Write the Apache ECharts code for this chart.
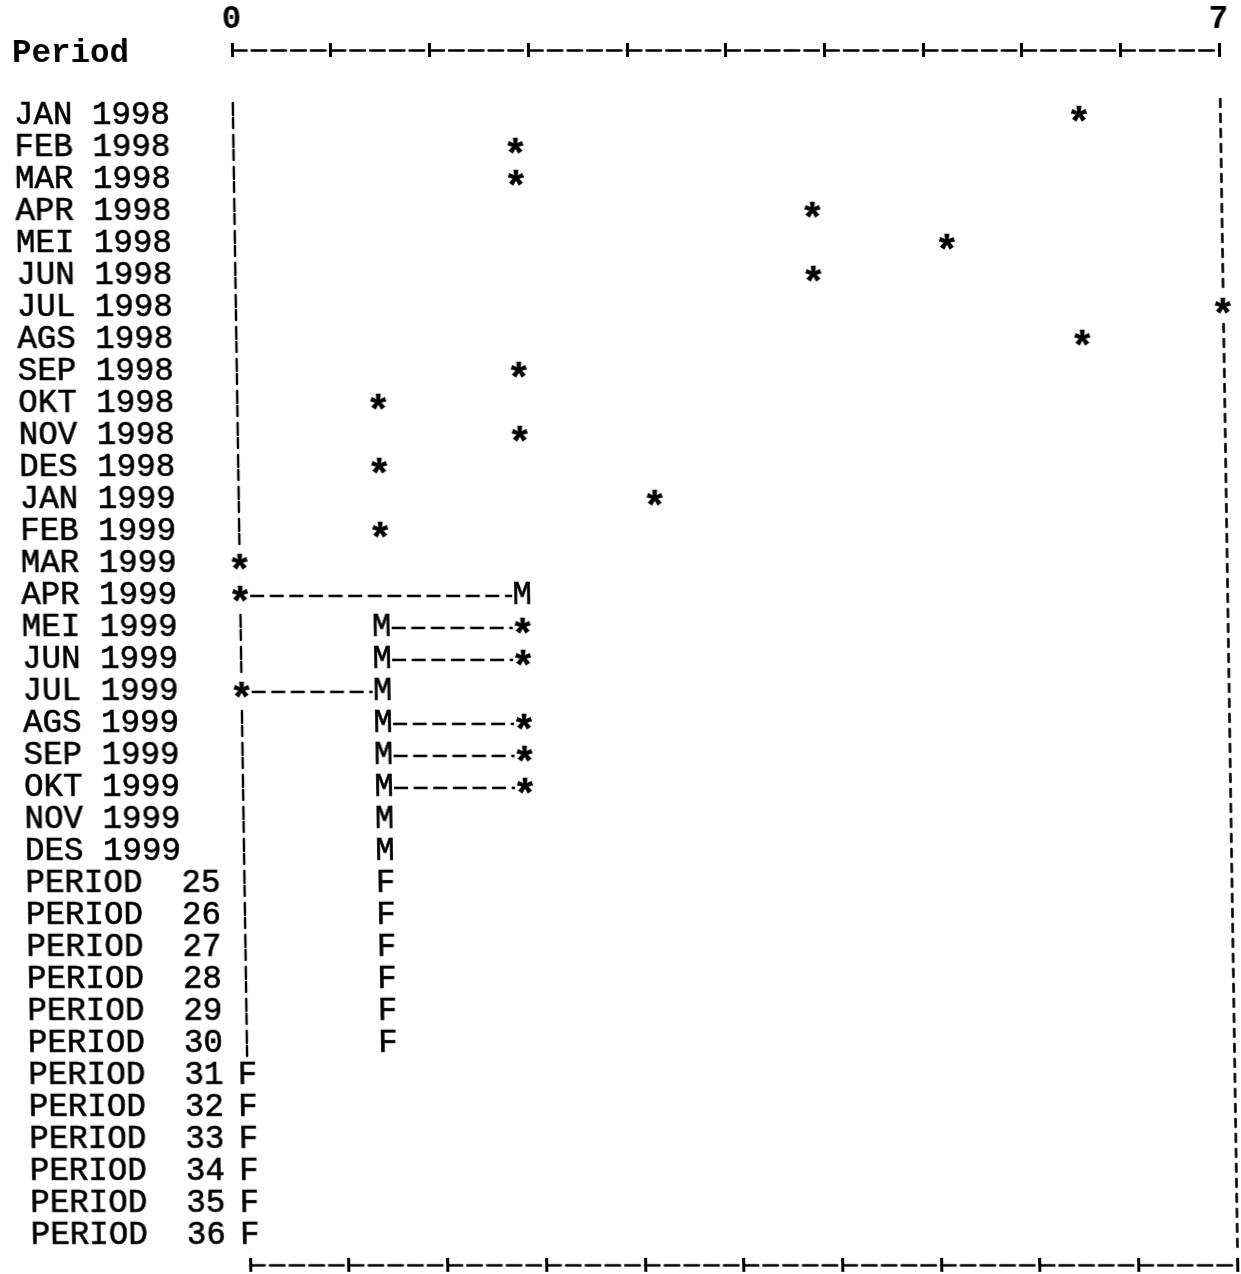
<!DOCTYPE html>
<html>
<head>
<meta charset="utf-8">
<script src="https://cdn.jsdelivr.net/npm/echarts@6/dist/echarts.min.js"></script>
<style>
html,body{margin:0;padding:0;background:#fff;overflow:hidden;}
#chart{width:1241px;height:1274px;transform:skewX(0.86deg);transform-origin:0 50px;}
</style>
</head>
<body>
<div id="chart"></div>
<script>
// ---- data ----
const categories = [
  'JAN 1998','FEB 1998','MAR 1998','APR 1998','MEI 1998','JUN 1998',
  'JUL 1998','AGS 1998','SEP 1998','OKT 1998','NOV 1998','DES 1998',
  'JAN 1999','FEB 1999','MAR 1999','APR 1999','MEI 1999','JUN 1999',
  'JUL 1999','AGS 1999','SEP 1999','OKT 1999','NOV 1999','DES 1999',
  'PERIOD  25','PERIOD  26','PERIOD  27','PERIOD  28','PERIOD  29','PERIOD  30',
  'PERIOD  31','PERIOD  32','PERIOD  33','PERIOD  34','PERIOD  35','PERIOD  36'
];
// observed values (*), as placed in the picture
const observed = [6,2,2,4.1,5.05,4.1,7,6,2,1,2,1,2.95,1,0,0,2,2,0,2,2,2,null,null,
  null,null,null,null,null,null,null,null,null,null,null,null];
// model fit (M)
const fitted = [null,null,null,null,null,null,null,null,null,null,null,null,
  null,null,null,2,1,1,1,1,1,1,1,1,
  null,null,null,null,null,null,null,null,null,null,null,null];
// forecast (F)
const forecast = [null,null,null,null,null,null,null,null,null,null,null,null,
  null,null,null,null,null,null,null,null,null,null,null,null,
  1,1,1,1,1,1,0,0,0,0,0,0];
const axisMin = 0, axisMax = 7, axisStep = 0.7;
const axisEndLabels = ['0','7'];

// ---- build chart ----
const FONT = 'Liberation Mono';
const FS = 32.5;

function pts(arr){ const out=[]; arr.forEach((v,i)=>{ if(v!==null) out.push([v,i]); }); return out; }
const links = [];
categories.forEach((c,i)=>{
  if(observed[i]!==null && fitted[i]!==null && observed[i]!==fitted[i]) links.push([observed[i], fitted[i], i]);
});

function markSeries(name, arr, ch, fs, fw, dy){
  return {
    type:'custom', name, xAxisIndex:0, yAxisIndex:0, data: pts(arr), z:5, silent:true,
    renderItem:(params, api)=>{
      const p = api.coord([api.value(0), api.value(1)]);
      return {type:'group', children:[
        {type:'rect', shape:{x:p[0]-10, y:p[1]-14, width:20, height:28}, style:{fill:'#fff'}},
        {type:'text', x:p[0], y:p[1]+dy, style:{text:ch, fill:'#000', stroke:'#000', lineWidth:0.6,
          font: fw+' '+fs+'px "'+FONT+'"', align:'center', verticalAlign:'middle'}}
      ]};
    }
  };
}

const dashX = [14.5, 5.24];
const tickStyle = {color:'#000', width:3};
const chart = echarts.init(document.getElementById('chart'), null, {renderer:'canvas'});
chart.setOption({
  backgroundColor:'#fff',
  animation:false,
  title:{text:'Period', left:12, top:37, padding:0,
    textStyle:{fontFamily:FONT, fontSize:FS, fontWeight:'bold', color:'#000'}},
  grid:{left:232, right:22, top:99, bottom:23, containLabel:false},
  xAxis:[
    {type:'value', position:'top', offset:49, min:axisMin, max:axisMax, interval:axisStep,
      axisLine:{show:true, lineStyle:{color:'#000', width:2.6, type:dashX}},
      axisTick:{show:true, inside:false, length:7, lineStyle:tickStyle},
      splitLine:{show:false},
      axisLabel:{show:true, margin:14, fontFamily:FONT, fontSize:FS, fontWeight:'bold', color:'#000',
        formatter:(v)=> Math.abs(v-axisMin)<1e-6 ? axisEndLabels[0] : (Math.abs(v-axisMax)<1e-6 ? axisEndLabels[1] : '')}},
    {type:'value', position:'top', offset:49, min:axisMin, max:axisMax, interval:axisStep,
      axisLine:{show:false}, axisTick:{show:true, inside:true, length:7, lineStyle:tickStyle},
      splitLine:{show:false}, axisLabel:{show:false}},
    {type:'value', position:'bottom', offset:14, min:axisMin, max:axisMax, interval:axisStep,
      axisLine:{show:true, lineStyle:{color:'#000', width:2.6, type:dashX}},
      axisTick:{show:true, inside:false, length:7, lineStyle:tickStyle},
      splitLine:{show:false}, axisLabel:{show:false}},
    {type:'value', position:'bottom', offset:14, min:axisMin, max:axisMax, interval:axisStep,
      axisLine:{show:false}, axisTick:{show:true, inside:true, length:7, lineStyle:tickStyle},
      splitLine:{show:false}, axisLabel:{show:false}}
  ],
  yAxis:[
    {type:'category', data:categories, inverse:true, position:'left',
      axisLine:{show:true, onZero:false, lineStyle:{color:'#000', width:2.4, type:[12,3,10,7], dashOffset:-4}},
      axisTick:{show:false}, splitLine:{show:false},
      axisLabel:{show:true, align:'left', margin:219, interval:0,
        fontFamily:FONT, fontSize:FS, color:'#000', textBorderColor:'#000', textBorderWidth:0.6}},
    {type:'category', data:categories, inverse:true, position:'right',
      axisLine:{show:true, onZero:false, lineStyle:{color:'#000', width:2.6, type:[8,7]}},
      axisTick:{show:false}, splitLine:{show:false}, axisLabel:{show:false}}
  ],
  series:[
    {type:'custom', name:'link', xAxisIndex:0, yAxisIndex:0, data:links, z:2, silent:true,
      renderItem:(params, api)=>{
        const a = api.coord([api.value(0), api.value(2)]);
        const b = api.coord([api.value(1), api.value(2)]);
        const x1 = Math.min(a[0],b[0]) + 10, x2 = Math.max(a[0],b[0]) - 10;
        const y = a[1] + 1;
        return {type:'line', shape:{x1, y1:y, x2, y2:y},
          style:{stroke:'#000', lineWidth:2.6, lineDash:[14,5.6]}};
      }},
    markSeries('Observed', observed, '*', 40, 'bold', 11),
    markSeries('Fit', fitted, 'M', FS, 'normal', 0),
    markSeries('Forecast', forecast, 'F', FS, 'normal', 0)
  ]
});
</script>
</body>
</html>
